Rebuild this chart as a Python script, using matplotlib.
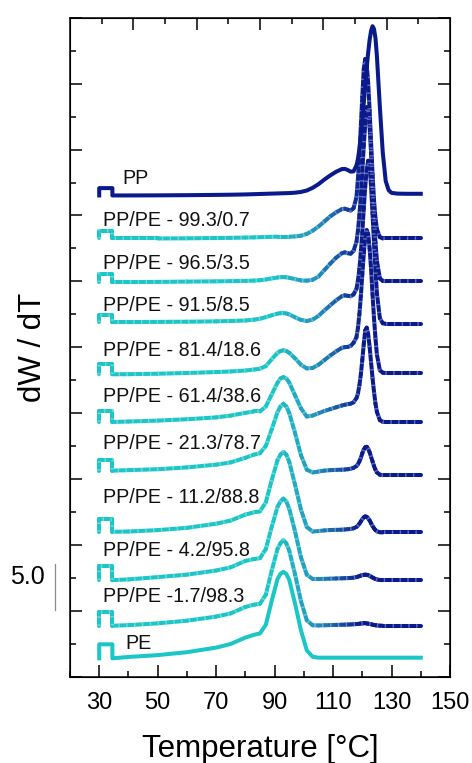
import numpy as np
import matplotlib
matplotlib.use("Agg")
import matplotlib.pyplot as plt
from matplotlib.collections import LineCollection
from matplotlib.colors import LinearSegmentedColormap
from matplotlib.ticker import MultipleLocator, FixedLocator, NullFormatter

plt.rcParams["font.family"] = ["Liberation Sans", "DejaVu Sans"]

# temperature grid shared by all DTG traces (first points draw the start step)
temperature = [30, 30, 34.5, 34.5, 40, 50, 60, 70, 75, 80,
               83, 85, 87, 89, 91, 92, 93, 94, 95,
               97, 99, 101, 103, 105, 107, 109, 111, 113,
               114, 115, 116, 117, 118,
               118.5, 119, 119.5, 120, 120.5, 121, 121.5, 122, 122.5, 123, 123.5, 124, 124.5, 125,
               126, 127, 128, 129, 130, 132, 135, 140]

sample_names = ["PP", "PP/PE - 99.3/0.7", "PP/PE - 96.5/3.5", "PP/PE - 91.5/8.5",
                "PP/PE - 81.4/18.6", "PP/PE - 61.4/38.6", "PP/PE - 21.3/78.7",
                "PP/PE - 11.2/88.8", "PP/PE - 4.2/95.8", "PP/PE -1.7/98.3", "PE"]

# dW/dT of each sample, relative to its own final baseline
dwdt_pp = [-0.18, 0.62, 0.62, -0.18, -0.18, -0.17, -0.15, -0.12, -0.1, -0.07,
           -0.04, -0.02, 0.0, 0.02, 0.04, 0.05, 0.06, 0.07, 0.08,
           0.12, 0.2, 0.36, 0.65, 1.05, 1.55, 2.0, 2.4, 2.7,
           2.72, 2.6, 2.42, 2.45, 3.1,
           3.8, 4.9, 6.3, 8.0, 9.9, 11.8, 13.7, 15.4, 16.8, 17.8, 18.3, 18.0, 17.0, 15.0,
           9.5, 4.5, 1.4, 0.4, 0.1, 0.02, 0.0, 0.0]
dwdt_993 = [0.0, 0.87, 0.87, 0.0, 0.0, 0.0, 0.02, 0.05, 0.07, 0.1,
            0.12, 0.14, 0.16, 0.18, 0.2, 0.2, 0.2, 0.2, 0.2,
            0.22, 0.3, 0.5, 0.85, 1.3, 1.85, 2.4, 2.85, 3.2,
            3.25, 3.15, 3.05, 3.3, 4.5,
            6.5, 9.0, 12.3, 15.5, 18.5, 19.6, 19.0, 17.0, 14.0, 10.5, 7.0, 4.2, 2.2, 1.0,
            0.15, 0.0, 0.0, 0.0, 0.0, 0.0, 0.0, 0.0]
dwdt_965 = [-0.1, 0.8, 0.8, -0.1, -0.1, -0.08, -0.05, -0.02, 0.0, 0.03,
            0.06, 0.1, 0.18, 0.3, 0.4, 0.43, 0.44, 0.42, 0.37,
            0.22, 0.08, 0.05, 0.15, 0.5, 1.2, 1.9, 2.55, 3.05,
            3.15, 3.05, 3.0, 3.3, 4.3,
            5.5, 7.2, 9.3, 12.0, 14.8, 17.2, 19.0, 18.6, 16.8, 14.0, 10.5, 7.0, 4.2, 2.2,
            0.3, 0.03, 0.0, 0.0, 0.0, 0.0, 0.0, 0.0]
dwdt_915 = [0.18, 0.9, 0.9, 0.18, 0.18, 0.2, 0.22, 0.26, 0.3, 0.35,
            0.45, 0.55, 0.72, 0.92, 1.1, 1.15, 1.16, 1.12, 1.02,
            0.7, 0.42, 0.3, 0.45, 0.85, 1.45, 2.0, 2.55, 3.0,
            3.1, 3.05, 3.0, 3.2, 3.8,
            4.7, 6.0, 7.8, 10.0, 12.6, 15.0, 16.8, 17.8, 17.2, 15.0, 12.0, 8.8, 5.8, 3.3,
            0.6, 0.05, 0.0, 0.0, 0.0, 0.0, 0.0, 0.0]
dwdt_814 = [-0.14, 0.95, 0.95, -0.14, -0.13, -0.08, 0.0, 0.1, 0.17, 0.27,
            0.38, 0.47, 0.75, 1.5, 2.2, 2.4, 2.48, 2.4, 2.2,
            1.6, 0.9, 0.5, 0.55, 0.9, 1.4, 1.9, 2.35, 2.75,
            2.82, 2.85, 2.95, 3.3, 3.9,
            4.9, 6.4, 8.4, 10.8, 13.0, 14.8, 15.6, 15.2, 13.6, 11.4, 8.6, 6.0, 3.8, 2.0,
            0.3, 0.03, 0.0, 0.0, 0.0, 0.0, 0.0, 0.0]
dwdt_614 = [0.0, 1.2, 1.2, 0.0, 0.05, 0.15, 0.3, 0.5, 0.7, 1.0,
            1.15, 1.15, 1.7, 3.0, 4.3, 4.75, 4.9, 4.75, 4.3,
            2.9, 1.5, 0.6, 0.7, 0.95, 1.2, 1.4, 1.6, 1.8,
            1.88, 1.95, 2.0, 2.15, 2.6,
            3.1, 4.0, 5.2, 6.8, 8.5, 10.0, 10.3, 9.6, 8.2, 6.5, 4.8, 3.3, 2.0, 1.1,
            0.2, 0.02, 0.0, 0.0, 0.0, 0.0, 0.0, 0.0]
dwdt_213 = [0.5, 1.64, 1.64, 0.5, 0.55, 0.65, 0.85, 1.15, 1.4, 1.9,
            2.25, 2.4, 3.2, 5.0, 6.9, 7.5, 7.8, 7.5, 6.8,
            4.6, 2.2, 0.6, 0.3, 0.4, 0.5, 0.55, 0.58, 0.6,
            0.62, 0.65, 0.7, 0.8, 1.0,
            1.2, 1.5, 1.9, 2.4, 2.8, 3.05, 3.1, 2.9, 2.5, 2.0, 1.5, 1.0, 0.6, 0.3,
            0.05, 0.0, 0.0, 0.0, 0.0, 0.0, 0.0, 0.0]
dwdt_112 = [0.07, 1.42, 1.42, 0.07, 0.1, 0.25, 0.5, 0.95, 1.3, 1.95,
            2.2, 2.3, 3.3, 5.7, 7.9, 8.5, 8.8, 8.5, 7.7,
            5.2, 2.5, 0.6, 0.1, 0.15, 0.22, 0.26, 0.28, 0.3,
            0.32, 0.35, 0.38, 0.45, 0.6,
            0.75, 0.95, 1.2, 1.45, 1.65, 1.75, 1.7, 1.55, 1.3, 1.0, 0.7, 0.45, 0.25, 0.12,
            0.02, 0.0, 0.0, 0.0, 0.0, 0.0, 0.0, 0.0]
dwdt_42 = [0.0, 1.53, 1.53, 0.0, 0.08, 0.33, 0.6, 1.05, 1.4, 2.1,
           2.3, 2.4, 3.4, 5.8, 8.0, 8.6, 8.9, 8.6, 7.8,
           5.3, 2.5, 0.6, 0.12, 0.12, 0.14, 0.16, 0.18, 0.2,
           0.21, 0.22, 0.24, 0.27, 0.33,
           0.38, 0.44, 0.5, 0.55, 0.58, 0.6, 0.58, 0.54, 0.47, 0.38, 0.28, 0.2, 0.12, 0.07,
           0.02, 0.0, 0.0, 0.0, 0.0, 0.0, 0.0, 0.0]
dwdt_17 = [0.0, 1.53, 1.53, 0.0, 0.06, 0.26, 0.55, 1.0, 1.35, 2.05,
           2.3, 2.4, 3.4, 6.0, 8.4, 9.0, 9.35, 9.0, 8.2,
           5.6, 2.7, 0.6, 0.05, 0.03, 0.05, 0.07, 0.09, 0.11,
           0.12, 0.13, 0.14, 0.16, 0.18,
           0.2, 0.22, 0.24, 0.25, 0.26, 0.26, 0.25, 0.23, 0.2, 0.16, 0.12, 0.08, 0.05, 0.03,
           0.01, 0.0, 0.0, 0.0, 0.0, 0.0, 0.0, 0.0]
dwdt_pe = [-0.07, 1.46, 1.46, -0.07, 0.08, 0.28, 0.6, 1.1, 1.5, 2.2,
           2.5, 2.65, 3.6, 6.2, 8.6, 9.15, 9.38, 9.15, 8.5,
           5.9, 3.0, 0.8, 0.1, 0.0, 0.0, 0.0, 0.0, 0.0,
           0.0, 0.0, 0.0, 0.0, 0.0,
           0.0, 0.0, 0.0, 0.0, 0.0, 0.0, 0.0, 0.0, 0.0, 0.0, 0.0, 0.0, 0.0, 0.0,
           0.0, 0.0, 0.0, 0.0, 0.0, 0.0, 0.0, 0.0]

curves = [dwdt_pp, dwdt_993, dwdt_965, dwdt_915, dwdt_814, dwdt_614,
          dwdt_213, dwdt_112, dwdt_42, dwdt_17, dwdt_pe]

# stacking offsets and label placement
offsets = [52.77, 47.89, 43.23, 38.58, 33.20, 27.85, 22.04, 15.79, 10.58, 5.60, 2.11]
label_x = [37.8] + [31.2] * 9 + [38.8]
label_dy = [1.65, 1.96, 1.9, 2.0, 2.47, 2.73, 3.46, 3.8, 3.28, 3.16, 1.56]

CYAN = "#1cc6c6"
NAVY = "#0a1a8c"
grad = LinearSegmentedColormap.from_list("pe_pp", [CYAN, "#2390bd", NAVY])

fig = plt.figure(figsize=(4.72, 7.63), dpi=100)
ax = fig.add_axes([0.1483, 0.1127, 0.8051, 0.8641])

T = np.array(temperature)
for i, (vals, off) in enumerate(zip(curves, offsets)):
    y = np.array(vals) + off
    if i == 0 or i == len(curves) - 1:
        color = NAVY if i == 0 else CYAN
        ax.plot(T, y, color=color, lw=2.9, solid_joinstyle="round", zorder=3)
    else:
        pts = np.column_stack([T, y])
        segs = np.stack([pts[:-1], pts[1:]], axis=1)
        tmid = 0.5 * (T[:-1] + T[1:])
        cols = grad(np.clip((tmid - 90) / 30, 0, 1))
        lc = LineCollection(segs, colors=cols, linewidths=2.9,
                            capstyle="round", joinstyle="round", zorder=2)
        ax.add_collection(lc)
        # faint cross-hatching along the blended traces
        ax.plot(T, y, color="white", lw=2.9, alpha=0.35, dashes=(0.35, 1.6),
                dash_capstyle="butt", zorder=2.1)
    ax.text(label_x[i], off + label_dy[i], sample_names[i], fontsize=14.2,
            ha="left", va="center", color="#111111")

ax.set_xlim(20, 150)
ax.set_ylim(0, 72)

# bottom axis: labelled every 20 degC, minor every 10
ax.xaxis.set_minor_locator(MultipleLocator(10))
ax.set_xticks(np.arange(30, 151, 20))
ax.yaxis.set_major_locator(MultipleLocator(7.2))
ax.yaxis.set_minor_locator(MultipleLocator(3.6))
ax.yaxis.set_major_formatter(NullFormatter())
ax.tick_params(axis="both", which="both", direction="in", width=1.1)
ax.tick_params(axis="both", which="major", length=8.3)
ax.tick_params(axis="both", which="minor", length=4.3)
ax.tick_params(axis="y", which="both", left=True, right=True)
ax.tick_params(axis="x", labelsize=17, pad=11)
for s in ax.spines.values():
    s.set_linewidth(1.1)

# top axis carries its own evenly spaced ticks
top = ax.twiny()
top.set_xlim(0, 12)
top.xaxis.set_major_locator(FixedLocator([2, 4, 6, 8, 10]))
top.xaxis.set_minor_locator(FixedLocator([1, 3, 5, 7, 9, 11]))
top.xaxis.set_major_formatter(NullFormatter())
top.tick_params(axis="x", which="both", direction="in", width=1.1, top=True)
top.tick_params(axis="x", which="major", length=8.3)
top.tick_params(axis="x", which="minor", length=4.3)

ax.set_xlabel("Temperature [°C]", fontsize=22.5, va="center")
ax.xaxis.set_label_coords(0.5, -0.1088)
ax.set_ylabel("dW / dT", fontsize=22.5, va="center")
ax.yaxis.set_label_coords(-0.097, 0.5)

# 5.0 scale bar for the dW/dT axis
ax.plot([15.04, 15.04], [7.31, 12.31], color="#8a8a8a", lw=0.9, clip_on=False)
ax.text(11.4, 10.9, "5.0", fontsize=18, ha="right", va="center")

fig.savefig("out.png", dpi=100)
